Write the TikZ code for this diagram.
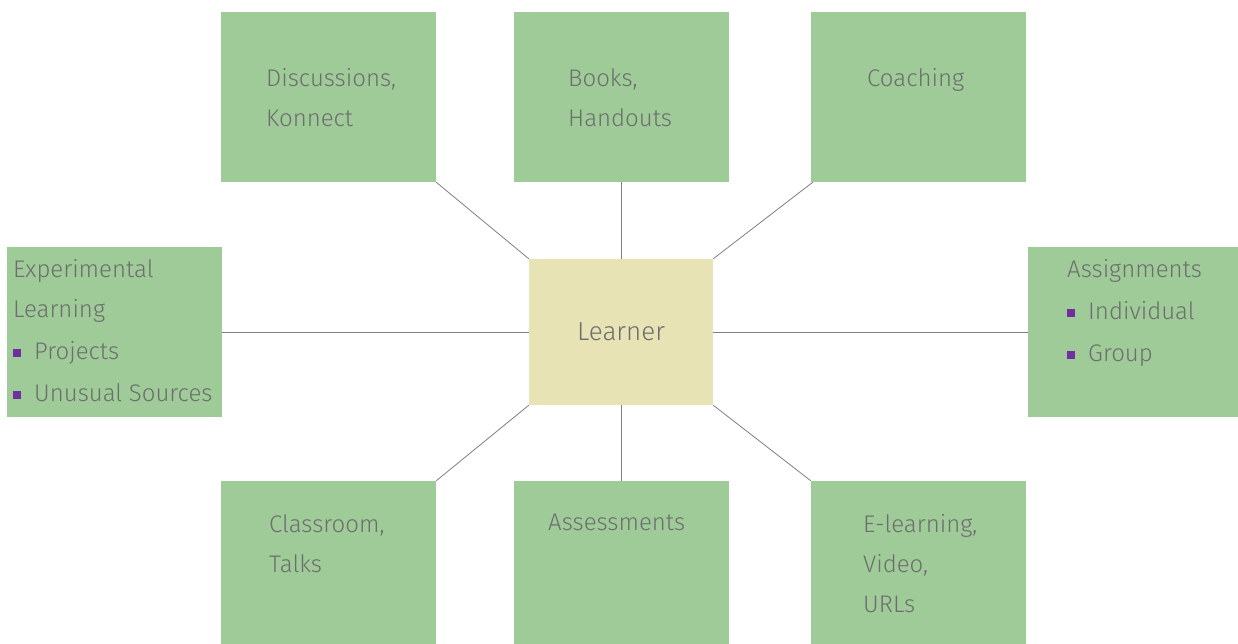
\documentclass[tikz,border=0pt]{standalone}
\usepackage{fontspec}
\setmainfont{Fira Sans}[UprightFont=* Light]
\definecolor{boxgreen}{HTML}{9ECB98}
\definecolor{centrefill}{HTML}{E7E3B5}
\definecolor{txtgrey}{HTML}{6E6E6E}
\definecolor{linegrey}{HTML}{7F7F7F}
\definecolor{bpurple}{HTML}{7030A0}
\newcommand{\bul}{\textcolor{bpurple}{\rule[2pt]{8pt}{8pt}}\hspace{13pt}}
\begin{document}
\begin{tikzpicture}[x=1pt,y=-1pt,
  box/.style={fill=boxgreen,draw=none,minimum width=215pt,minimum height=170pt,inner sep=0pt},
  lbl/.style={text=txtgrey,inner sep=0pt,align=left,anchor=north west,font=\fontsize{24}{40}\selectfont},
  link/.style={draw=linegrey,line width=0.8pt}]
\useasboundingbox (0,0) rectangle (1238,643);
\node[box] (dis) at (328.5,97) {};
\node[box] (boo) at (621,97) {};
\node[box] (coa) at (918.5,97) {};
\node[box] (exp) at (114.5,332) {};
\node[box,minimum width=210pt] (asg) at (1133,332) {};
\node[box] (cla) at (328.5,566) {};
\node[box] (ass) at (621,566) {};
\node[box] (ele) at (918.5,566) {};
\node[fill=centrefill,minimum width=184pt,minimum height=146pt,inner sep=0pt,
  text=txtgrey,font=\fontsize{26}{30}\selectfont] (lea) at (621,332) {Learner};

\node[lbl] (distxt) at (266,68) {Discussions,\\Konnect};
\node[lbl] (bootxt) at (568,68) {Books,\\Handouts};
\node[lbl] (coatxt) at (867,68) {Coaching};
\node[lbl] (exptxt) at (13,259) {Experimental\\Learning\\[2pt]\bul Projects\\[2pt]\bul Unusual Sources};
\node[lbl] (asgtxt) at (1067,259) {Assignments\\[2pt]\bul Individual\\[2pt]\bul Group};
\node[lbl] (clatxt) at (269,514) {Classroom,\\Talks};
\node[lbl] (asstxt) at (548,514) {Assessments};
\node[lbl] (eletxt) at (863,514) {E-learning,\\Video,\\URLs};

\draw[link] (dis.south east) -- (lea.north west);
\draw[link] (boo.south) -- (lea.north);
\draw[link] (coa.south west) ++(2,0) -- (lea.north east);
\draw[link] (exp.east) -- (lea.west);
\draw[link] (lea.east) -- (asg.west);
\draw[link] (lea.south west) -- (cla.north east);
\draw[link] (lea.south) -- (ass.north);
\draw[link] (lea.south east) -- (ele.north west);
\end{tikzpicture}
\end{document}
